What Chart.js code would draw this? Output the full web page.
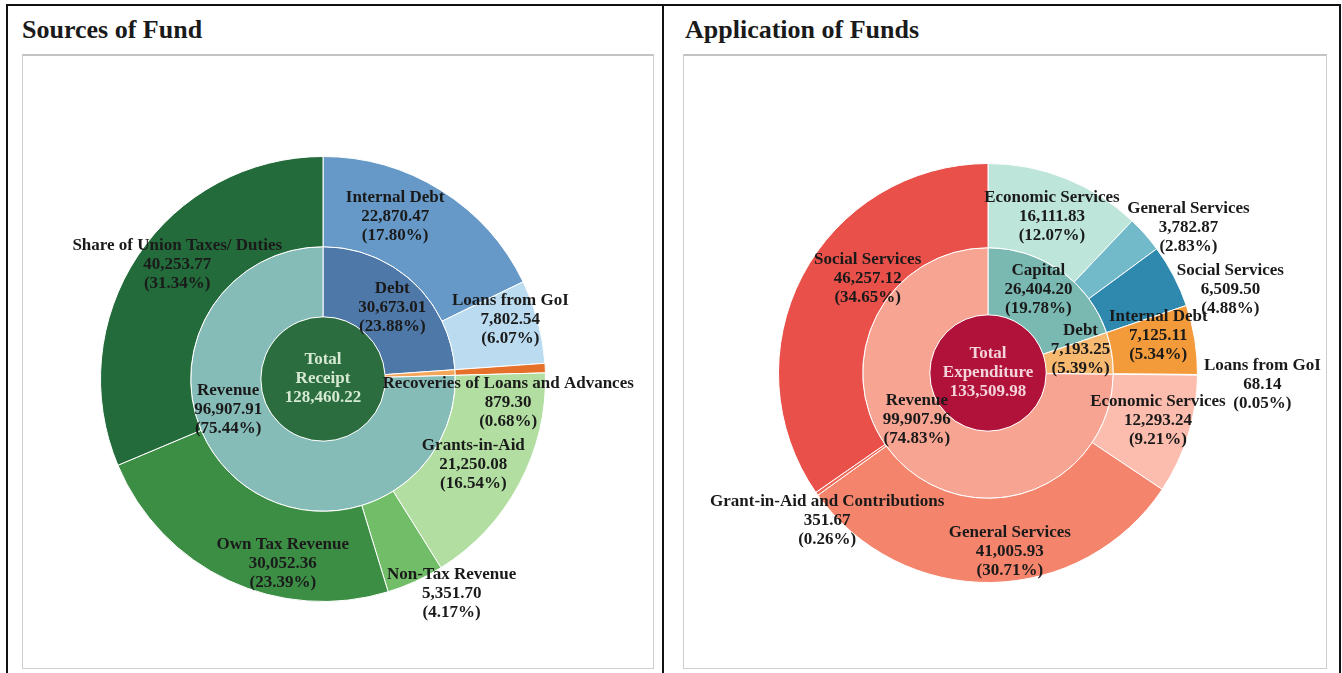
<!DOCTYPE html>
<html>
<head>
<meta charset="utf-8">
<script src="https://cdn.jsdelivr.net/npm/chart.js@4.4.0/dist/chart.umd.min.js"></script>
<style>
  body { margin: 0; background: #fff; width: 1342px; height: 673px; overflow: hidden; position: relative; font-family: "Liberation Serif", serif; }
  .frame { position: absolute; left: 6px; top: 4px; width: 1331px; height: 690px; border: 2px solid #111; }
  .divider { position: absolute; left: 662px; top: 4px; width: 2px; height: 700px; background: #111; }
  .title { position: absolute; top: 15px; font-weight: bold; font-size: 26px; color: #1a1a1a; }
  .box { position: absolute; top: 54px; height: 612px; border: 1px solid #cfcfcf; border-top: 2px solid #c4c4c4; }
  .box canvas { position: absolute; left: 0; top: 0; }
</style>
</head>
<body>
<div class="frame"></div>
<div class="divider"></div>
<div class="title" style="left:22px">Sources of Fund</div>
<div class="title" style="left:685px">Application of Funds</div>
<div class="box" style="left:22px; width:630px"><canvas id="sourcesChart"></canvas></div>
<div class="box" style="left:683px; width:642px"><canvas id="applicationChart"></canvas></div>

<script>
// ---- Sources of Fund ----
const srcTotal = 128460.22;
const srcMidNames = ["Debt", null, "Revenue"];
const srcMidValues = [30673.01, 879.30, 96907.91];
const srcMidPct = ["23.88", "0.68", "75.44"];
const srcOuterNames = ["Internal Debt", "Loans from GoI", "Recoveries of Loans and Advances", "Grants-in-Aid", "Non-Tax Revenue", "Own Tax Revenue", "Share of Union Taxes/ Duties"];
const srcOuterValues = [22870.47, 7802.54, 879.30, 21250.08, 5351.70, 30052.36, 40253.77];
const srcOuterPct = ["17.80", "6.07", "0.68", "16.54", "4.17", "23.39", "31.34"];

// ---- Application of Funds ----
const appTotal = 133509.98;
const appMidNames = ["Capital", "Debt", "Revenue"];
const appMidValues = [26404.20, 7193.25, 99907.96];
const appMidPct = ["19.78", "5.39", "74.83"];
const appOuterNames = ["Economic Services", "General Services", "Social Services", "Internal Debt", "Loans from GoI", "Economic Services", "General Services", "Grant-in-Aid and Contributions", "Social Services"];
const appOuterValues = [16111.83, 3782.87, 6509.50, 7125.11, 68.14, 12293.24, 41005.93, 351.67, 46257.12];
const appOuterPct = ["12.07", "2.83", "4.88", "5.34", "0.05", "9.21", "30.71", "0.26", "34.65"];

// styles
const srcOuterColors = ["#6699c7", "#bbdcf0", "#e5702a", "#b2dea2", "#72bd68", "#3d8e45", "#236b3a"];
const srcMidColors = ["#4e78a8", "#f5a55a", "#86bcb7"];
const srcCenterColor = "#2b6d3e";
const appOuterColors = ["#bde5da", "#72b9c9", "#2f88ad", "#f39b3b", "#e88a2c", "#fcbcae", "#f5846c", "#ef6a58", "#e9504a"];
const appMidColors = ["#7ab9b1", "#f7b86f", "#f8a492"];
const appCenterColor = "#b01239";

// label nudges from each arc's centre point
const srcOuterOffsets = [[-22, -12], [16, -14], [8, 32], [-6, 2], [55, 53], [35, 24], [2, -16]];
const srcMidOffsets = [[3, 0], [0, 0], [-27, -39]];
const appOuterOffsets = [[2, -1], [75, -35], [94, -6], [5, -11], [107, 10], [10, -2], [19, 11], [-24, 51], [28, -17]];
const appMidOffsets = [[-3, -9], [2, -9], [-6, -18]];

function fmt(v) {
    return v.toLocaleString("en-US", { minimumFractionDigits: 2, maximumFractionDigits: 2 });
}

function lines(names, values, pcts) {
    return names.map((n, i) => n ? [n, fmt(values[i]), "(" + pcts[i] + "%)"] : null);
}

const ringLabels = {
    id: "ringLabels",
    afterDatasetsDraw(chart) {
        const ctx = chart.ctx;
        ctx.save();
        ctx.font = "bold 17px 'Liberation Serif'";
        ctx.textAlign = "center";
        ctx.textBaseline = "middle";
        chart.data.datasets.forEach((ds, di) => {
            const meta = chart.getDatasetMeta(di);
            meta.data.forEach((arc, i) => {
                const txt = ds.labelLines[i];
                if (!txt) return;
                const p = ds.isCenter ? { x: arc.x, y: arc.y } : arc.getCenterPoint();
                const off = (ds.labelOffsets && ds.labelOffsets[i]) || [0, 0];
                ctx.fillStyle = ds.labelColor || "#1a1a1a";
                txt.forEach((t, k) => {
                    ctx.fillText(t, p.x + off[0], p.y + off[1] + (k - (txt.length - 1) / 2) * 19);
                });
            });
        });
        ctx.restore();
    }
};

function makeSunburst(id, w, h, padding, weights, outer, mid, center) {
    const canvas = document.getElementById(id);
    canvas.width = w;
    canvas.height = h;
    canvas.style.width = w + "px";
    canvas.style.height = h + "px";
    return new Chart(canvas.getContext("2d"), {
        type: "doughnut",
        data: {
            datasets: [
                {
                    data: outer.values,
                    backgroundColor: outer.colors,
                    borderColor: "#ffffff",
                    borderWidth: 1,
                    weight: weights[0],
                    labelLines: outer.lines,
                    labelOffsets: outer.offsets,
                },
                {
                    data: mid.values,
                    backgroundColor: mid.colors,
                    borderColor: "#ffffff",
                    borderWidth: 1,
                    weight: weights[1],
                    labelLines: mid.lines,
                    labelOffsets: mid.offsets,
                },
                {
                    data: [center.value],
                    backgroundColor: [center.color],
                    borderWidth: 0,
                    weight: weights[2],
                    isCenter: true,
                    labelLines: [center.lines],
                    labelColor: center.textColor,
                },
            ],
        },
        options: {
            responsive: false,
            animation: false,
            cutout: 0,
            layout: { padding: padding },
            plugins: {
                legend: { display: false },
                tooltip: { enabled: false },
            },
        },
        plugins: [ringLabels],
    });
}

makeSunburst("sourcesChart", 630, 612,
    { left: 77, top: 100, right: 107, bottom: 66 },
    [90, 70, 62],
    { values: srcOuterValues, colors: srcOuterColors, lines: lines(srcOuterNames, srcOuterValues, srcOuterPct), offsets: srcOuterOffsets },
    { values: srcMidValues, colors: srcMidColors, lines: lines(srcMidNames, srcMidValues, srcMidPct), offsets: srcMidOffsets },
    { value: srcTotal, color: srcCenterColor, lines: ["Total", "Receipt", fmt(srcTotal)], textColor: "#d6e9d3" });

makeSunburst("applicationChart", 642, 612,
    { left: 94, top: 107, right: 128, bottom: 85 },
    [84, 67, 58],
    { values: appOuterValues, colors: appOuterColors, lines: lines(appOuterNames, appOuterValues, appOuterPct), offsets: appOuterOffsets },
    { values: appMidValues, colors: appMidColors, lines: lines(appMidNames, appMidValues, appMidPct), offsets: appMidOffsets },
    { value: appTotal, color: appCenterColor, lines: ["Total", "Expenditure", fmt(appTotal)], textColor: "#f4d3db" });
</script>
</body>
</html>
